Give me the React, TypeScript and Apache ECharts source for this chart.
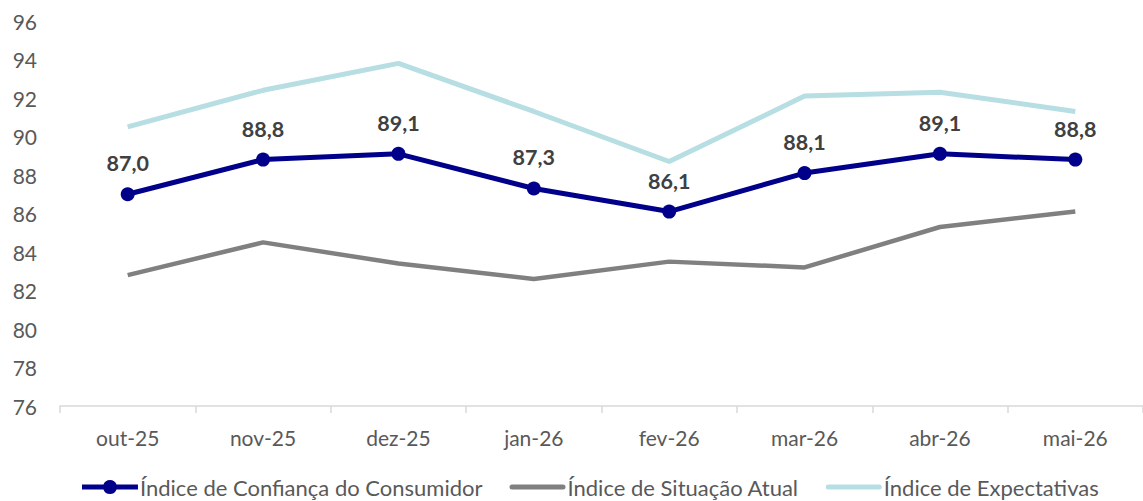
import React, { useEffect, useRef } from "react";
import * as echarts from "echarts";

const categories = ["out-25", "nov-25", "dez-25", "jan-26", "fev-26", "mar-26", "abr-26", "mai-26"];
const confianca = [87.0, 88.8, 89.1, 87.3, 86.1, 88.1, 89.1, 88.8];
const situacaoAtual = [82.8, 84.5, 83.4, 82.6, 83.5, 83.2, 85.3, 86.1];
const expectativas = [90.5, 92.4, 93.8, 91.3, 88.7, 92.1, 92.3, 91.3];
const seriesNames = ["Índice de Confiança do Consumidor", "Índice de Situação Atual", "Índice de Expectativas"];

const FONT = "Lato, 'Open Sans', sans-serif";

const ICON_MARKER =
  "path://M0,4.5 L21.46,4.5 A7,7 0 0 1 34.54,4.5 L56,4.5 L56,9.5 L34.54,9.5 A7,7 0 0 1 21.46,9.5 L0,9.5 Z";
const ICON_LINE = "path://M2.5,4.5 L53.5,4.5 A2.5,2.5 0 0 1 53.5,9.5 L2.5,9.5 A2.5,2.5 0 0 1 2.5,4.5 Z M0,0 L0,0 M56,14 L56,14";

export default function App() {
  const ref = useRef<HTMLDivElement>(null);
  useEffect(() => {
    if (!ref.current) return;
    const chart = echarts.init(ref.current, undefined, { renderer: "svg" });
    chart.setOption({
      animation: false,
      textStyle: { fontFamily: FONT },
      grid: { left: 60, top: 21, width: 1092, height: 385, containLabel: false },
      legend: {
        top: 476,
        left: 82,
        itemWidth: 56,
        itemHeight: 14,
        itemGap: 27,
        padding: 0,
        textStyle: { fontSize: 22, color: "#595959", fontFamily: FONT, padding: [0, 0, 0, -3] },
        data: [
          { name: seriesNames[0], icon: ICON_MARKER },
          { name: seriesNames[1], icon: ICON_LINE },
          { name: seriesNames[2], icon: ICON_LINE },
        ],
      },
      xAxis: {
        type: "category",
        data: categories,
        boundaryGap: true,
        axisLine: { lineStyle: { color: "#d9d9d9", width: 1.5 } },
        axisTick: { show: true, length: 7, lineStyle: { color: "#d9d9d9", width: 1.5 } },
        axisLabel: { fontSize: 21, color: "#595959", margin: 21, fontFamily: FONT },
        splitLine: { show: false },
      },
      yAxis: {
        type: "value",
        min: 76,
        max: 96,
        interval: 2,
        axisLine: { show: false },
        axisTick: { show: false },
        splitLine: { show: false },
        axisLabel: { fontSize: 21, color: "#595959", margin: 23, fontFamily: FONT },
      },
      series: [
        {
          name: seriesNames[0],
          type: "line",
          data: confianca,
          z: 3,
          symbol: "circle",
          symbolSize: 14,
          lineStyle: { color: "#00008B", width: 5 },
          itemStyle: { color: "#00008B" },
          label: {
            show: true,
            position: "top",
            distance: 13,
            fontSize: 21.5,
            fontWeight: "bold",
            color: "#404040",
            fontFamily: FONT,
            formatter: (p: any) => p.value.toFixed(1).replace(".", ","),
          },
        },
        {
          name: seriesNames[1],
          type: "line",
          data: situacaoAtual,
          z: 2,
          symbol: "none",
          lineStyle: { color: "#808080", width: 4.5 },
          itemStyle: { color: "#808080" },
        },
        {
          name: seriesNames[2],
          type: "line",
          data: expectativas,
          z: 1,
          symbol: "none",
          lineStyle: { color: "#B7DEE2", width: 5 },
          itemStyle: { color: "#B7DEE2" },
        },
      ],
    });
    return () => chart.dispose();
  }, []);
  return (
    <div
      ref={ref}
      style={{ position: "absolute", left: 0, top: 0, width: 1143, height: 501, overflow: "hidden" }}
    />
  );
}
